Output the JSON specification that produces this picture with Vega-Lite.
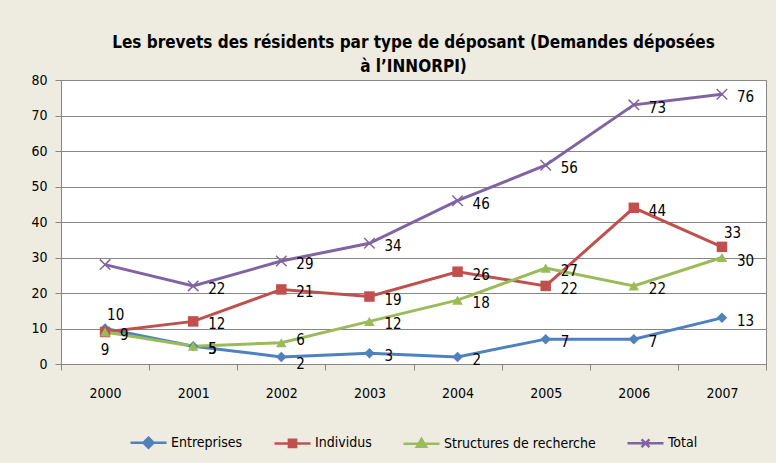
{
  "$schema": "https://vega.github.io/schema/vega-lite/v6.json",
  "width": 705,
  "height": 284,
  "padding": {"left": 30, "top": 34, "right": 10, "bottom": 10},
  "background": "#EEECE1",
  "title": {
    "text": ["Les brevets des résidents par type de déposant (Demandes déposées", "à l’INNORPI)"],
    "font": "DejaVu Sans Condensed, Liberation Sans, sans-serif",
    "fontSize": 17,
    "fontWeight": "bold",
    "color": "#000000",
    "anchor": "middle",
    "lineHeight": 24,
    "offset": -3
  },
  "data": {
    "values": [
      {"annee": "2000", "serie": "Entreprises", "valeur": 10},
      {"annee": "2001", "serie": "Entreprises", "valeur": 5},
      {"annee": "2002", "serie": "Entreprises", "valeur": 2},
      {"annee": "2003", "serie": "Entreprises", "valeur": 3},
      {"annee": "2004", "serie": "Entreprises", "valeur": 2},
      {"annee": "2005", "serie": "Entreprises", "valeur": 7},
      {"annee": "2006", "serie": "Entreprises", "valeur": 7},
      {"annee": "2007", "serie": "Entreprises", "valeur": 13},
      {"annee": "2000", "serie": "Individus", "valeur": 9},
      {"annee": "2001", "serie": "Individus", "valeur": 12},
      {"annee": "2002", "serie": "Individus", "valeur": 21},
      {"annee": "2003", "serie": "Individus", "valeur": 19},
      {"annee": "2004", "serie": "Individus", "valeur": 26},
      {"annee": "2005", "serie": "Individus", "valeur": 22},
      {"annee": "2006", "serie": "Individus", "valeur": 44},
      {"annee": "2007", "serie": "Individus", "valeur": 33},
      {"annee": "2000", "serie": "Structures de recherche", "valeur": 9},
      {"annee": "2001", "serie": "Structures de recherche", "valeur": 5},
      {"annee": "2002", "serie": "Structures de recherche", "valeur": 6},
      {"annee": "2003", "serie": "Structures de recherche", "valeur": 12},
      {"annee": "2004", "serie": "Structures de recherche", "valeur": 18},
      {"annee": "2005", "serie": "Structures de recherche", "valeur": 27},
      {"annee": "2006", "serie": "Structures de recherche", "valeur": 22},
      {"annee": "2007", "serie": "Structures de recherche", "valeur": 30},
      {"annee": "2000", "serie": "Total", "valeur": 28},
      {"annee": "2001", "serie": "Total", "valeur": 22},
      {"annee": "2002", "serie": "Total", "valeur": 29},
      {"annee": "2003", "serie": "Total", "valeur": 34},
      {"annee": "2004", "serie": "Total", "valeur": 46},
      {"annee": "2005", "serie": "Total", "valeur": 56},
      {"annee": "2006", "serie": "Total", "valeur": 73},
      {"annee": "2007", "serie": "Total", "valeur": 76}
    ]
  },
  "encoding": {
    "x": {
      "field": "annee", "type": "ordinal",
      "scale": {"paddingInner": 0, "paddingOuter": 0},
      "axis": {"title": null, "labelAngle": 0, "tickBand": "extent", "grid": false, "domainColor": "#868686", "tickColor": "#868686", "tickSize": 6, "labelPadding": 16, "labelFontSize": 14, "labelFont": "DejaVu Sans Condensed, Liberation Sans, sans-serif", "labelColor": "#000000"}
    },
    "y": {
      "field": "valeur", "type": "quantitative",
      "scale": {"domain": [0, 80]},
      "axis": {"title": null, "values": [0,10,20,30,40,50,60,70,80], "gridColor": "#868686", "domainColor": "#868686", "tickColor": "#868686", "tickSize": 6, "labelPadding": 8, "labelFontSize": 14, "labelFont": "DejaVu Sans Condensed, Liberation Sans, sans-serif", "labelColor": "#000000"}
    },
    "color": {
      "field": "serie", "type": "nominal",
      "scale": {"domain": ["Entreprises", "Individus", "Structures de recherche", "Total"], "range": ["#4F81BD", "#C0504D", "#9BBB59", "#8064A2"]},
      "legend": {
        "title": null, "orient": "bottom", "direction": "horizontal",
        "labelFontSize": 14, "labelFont": "DejaVu Sans Condensed, Liberation Sans, sans-serif", "labelColor": "#000000",
        "symbolSize": 1296, "symbolStrokeWidth": 2.5, "labelOffset": 3, "columnPadding": 26, "offset": 23,
        "encode": {
          "symbols": {
            "update": {
              "shape": {"signal": "datum.value == 'Entreprises' ? 'M-1,0L1,0M0,-0.28L0.28,0L0,0.28L-0.28,0Z' : datum.value == 'Individus' ? 'M-1,0L1,0M-0.2,-0.2L0.2,-0.2L0.2,0.2L-0.2,0.2Z' : datum.value == 'Structures de recherche' ? 'M-1,0L1,0M0,-0.26L0.26,0.18L-0.26,0.18Z' : 'M-1,0L1,0M-0.22,-0.22L0.22,0.22M-0.22,0.22L0.22,-0.22'"},
              "fill": {"signal": "datum.value == 'Total' ? 'transparent' : scale('color', datum.value)"},
              "stroke": {"signal": "scale('color', datum.value)"},
              "strokeWidth": {"value": 2.5},
              "opacity": {"value": 1},
              "size": {"value": 1296}
            }
          }
        }
      }
    }
  },
  "layer": [
    {"mark": {"type": "line", "strokeWidth": 3}},
    {
      "transform": [{"filter": "datum.serie == 'Entreprises'"}],
      "mark": {"type": "point", "shape": "diamond", "filled": true, "size": 110, "opacity": 1, "strokeWidth": 1.5}
    },
    {
      "transform": [{"filter": "datum.serie == 'Individus'"}],
      "mark": {"type": "point", "shape": "square", "filled": true, "size": 110, "opacity": 1, "strokeWidth": 1.5}
    },
    {
      "transform": [{"filter": "datum.serie == 'Structures de recherche'"}],
      "mark": {"type": "point", "shape": "triangle-up", "filled": true, "size": 110, "opacity": 1, "strokeWidth": 1.5}
    },
    {
      "transform": [{"filter": "datum.serie == 'Total'"}],
      "mark": {"type": "point", "shape": "M-1,-1L1,1M-1,1L1,-1", "filled": false, "size": 110, "opacity": 1, "strokeWidth": 1.5}
    },
    {
      "transform": [{"filter": "!((datum.annee == '2000' && datum.serie != 'Structures de recherche') || (datum.annee == '2007' && datum.serie == 'Individus') || (datum.annee == '2002' && datum.serie == 'Entreprises') || (datum.annee == '2002' && datum.serie == 'Structures de recherche'))"}],
      "mark": {"type": "text", "align": "left", "baseline": "middle", "dx": 15, "dy": 3, "fontSize": 15, "font": "DejaVu Sans Condensed, Liberation Sans, sans-serif", "color": "#000000"},
      "encoding": {"text": {"field": "valeur", "type": "quantitative"}, "color": {"value": "#000000"}}
    },
    {
      "transform": [{"filter": "datum.annee == '2002' && datum.serie == 'Entreprises'"}],
      "mark": {"type": "text", "align": "left", "baseline": "middle", "dx": 15, "dy": 7, "fontSize": 15, "font": "DejaVu Sans Condensed, Liberation Sans, sans-serif", "color": "#000000"},
      "encoding": {"text": {"field": "valeur", "type": "quantitative"}, "color": {"value": "#000000"}}
    },
    {
      "transform": [{"filter": "datum.annee == '2002' && datum.serie == 'Structures de recherche'"}],
      "mark": {"type": "text", "align": "left", "baseline": "middle", "dx": 15, "dy": -3, "fontSize": 15, "font": "DejaVu Sans Condensed, Liberation Sans, sans-serif", "color": "#000000"},
      "encoding": {"text": {"field": "valeur", "type": "quantitative"}, "color": {"value": "#000000"}}
    },
    {
      "transform": [{"filter": "(datum.annee == '2000' && datum.serie == 'Entreprises') || (datum.annee == '2007' && datum.serie == 'Individus')"}],
      "mark": {"type": "text", "align": "left", "baseline": "middle", "dx": 2, "dy": -14, "fontSize": 15, "font": "DejaVu Sans Condensed, Liberation Sans, sans-serif", "color": "#000000"},
      "encoding": {"text": {"field": "valeur", "type": "quantitative"}, "color": {"value": "#000000"}}
    },
    {
      "transform": [{"filter": "datum.annee == '2000' && datum.serie == 'Individus'"}],
      "mark": {"type": "text", "align": "center", "baseline": "middle", "dx": 0, "dy": 18, "fontSize": 15, "font": "DejaVu Sans Condensed, Liberation Sans, sans-serif", "color": "#000000"},
      "encoding": {"text": {"field": "valeur", "type": "quantitative"}, "color": {"value": "#000000"}}
    }
  ],
  "config": {
    "view": {"fill": "#FFFFFF", "stroke": "#868686"},
    "legend": {"layout": {"bottom": {"anchor": "middle"}}}
  }
}
